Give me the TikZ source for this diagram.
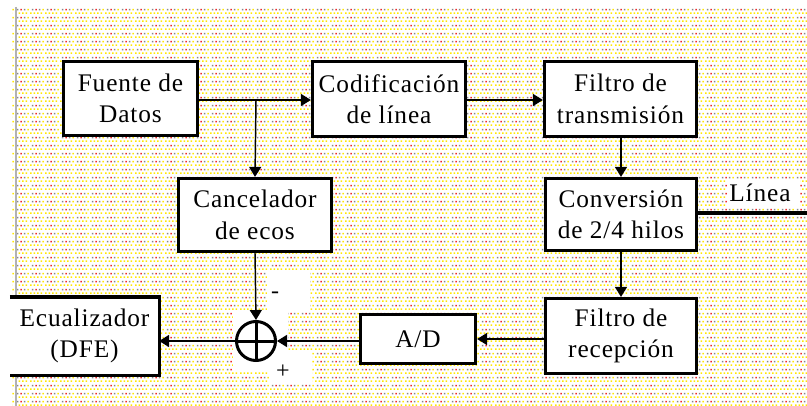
\documentclass[tikz,border=0pt]{standalone}
\usepackage{fontspec}
\setmainfont{Liberation Serif}[LetterSpace=3.5]
\usetikzlibrary{arrows.meta,patterns}
\definecolor{dotY}{RGB}{255,232,0}
\definecolor{dotG}{RGB}{135,135,135}
\definecolor{dotR}{RGB}{240,40,40}
\pgfdeclarepatterninherentlycolored{bgdots}{\pgfpointorigin}{\pgfpoint{11.25pt}{5.625pt}}{\pgfpoint{11.25pt}{5.625pt}}{%
  \pgfsetfillcolor{dotY}%
  \pgfpathrectangle{\pgfpoint{0pt}{0pt}}{\pgfpoint{1.3pt}{1.3pt}}%
  \pgfpathrectangle{\pgfpoint{2.81pt}{0pt}}{\pgfpoint{1.3pt}{1.3pt}}%
  \pgfpathrectangle{\pgfpoint{5.63pt}{0pt}}{\pgfpoint{1.3pt}{1.3pt}}%
  \pgfpathrectangle{\pgfpoint{8.44pt}{0pt}}{\pgfpoint{1.3pt}{1.3pt}}%
  \pgfpathrectangle{\pgfpoint{9.84pt}{2.81pt}}{\pgfpoint{1.3pt}{1.3pt}}%
  \pgfusepath{fill}%
  \pgfsetfillcolor{dotG}%
  \pgfpathrectangle{\pgfpoint{1.4pt}{2.81pt}}{\pgfpoint{1.3pt}{1.3pt}}%
  \pgfpathrectangle{\pgfpoint{7.03pt}{2.81pt}}{\pgfpoint{1.3pt}{1.3pt}}%
  \pgfusepath{fill}%
  \pgfsetfillcolor{dotR}%
  \pgfpathrectangle{\pgfpoint{4.22pt}{2.81pt}}{\pgfpoint{1.3pt}{1.3pt}}%
  \pgfusepath{fill}%
}
\begin{document}
\begin{tikzpicture}[x=0.75pt,y=-0.75pt,
  txt/.style={font=\fontsize{19}{23.5}\selectfont, align=center, inner sep=0pt},
  box/.style={txt, draw=black, fill=white, line width=2.4pt},
  arr/.style={line width=1.1pt, -{Triangle[length=7.5pt,width=9pt]}},
  wire/.style={line width=1.1pt}]
\useasboundingbox (0,0) rectangle (807,406);
\fill[white] (0,0) rectangle (807,406);
\fill[pattern=bgdots] (12,7) rectangle (807,406);
\draw[black!30, line width=1.5pt] (15.5,7) -- (15.5,406);
% white label patches
\fill[white] (267,270) rectangle (310,312);
\fill[white] (233,312) rectangle (288,372);
\fill[white] (270,350) rectangle (312,383);
\fill[white] (727,180) rectangle (800,208);
% blocks
\node[box, minimum width=100.5pt, minimum height=55.5pt] (src) at (130.5,98.5) {Fuente de\\Datos};
\node[box, minimum width=114.75pt, minimum height=56.25pt] (cod) at (389,99) {Codificación\\de línea};
\node[box, minimum width=114pt, minimum height=56.25pt] (tx) at (620.5,99) {Filtro de\\transmisión};
\node[box, minimum width=114.75pt, minimum height=54.75pt] (can) at (255,215) {Cancelador\\de ecos};
\node[box, minimum width=113.25pt, minimum height=54pt] (conv) at (621,214.5) {Conversión\\de 2/4 hilos};
\node[box, minimum width=113.25pt, minimum height=56.25pt] (rx) at (621,336) {Filtro de\\recepción};
\node[box, minimum width=86.25pt, minimum height=36.75pt] (ad) at (418,339) {A/D};
\node[txt, fill=white, minimum width=109.5pt, minimum height=56.25pt, line width=2.4pt] (ecu) at (84.5,336) {Ecualizador\\(DFE)};
\draw[line width=2.4pt] (ecu.north west) -- (ecu.north east) -- (ecu.south east) -- (ecu.south west);
\node[circle, draw=black, line width=2.25pt, minimum size=29.25pt, inner sep=0pt] (sum) at (256,341) {};
\draw[line width=2.25pt] (sum.north) -- (sum.south) (sum.west) -- (sum.east);
\node[txt, font=\fontsize{18}{20}\selectfont] (minus) at (275,295) {-};
\node[txt, font=\fontsize{18}{20}\selectfont] (plus) at (283,372) {+};
\node[txt, anchor=base] (linea) at (760,202) {Línea};
\coordinate (lineEnd) at (807,213);
\coordinate (br) at (256,100);
% connectors
\draw[arr] (src.east |- br) -- (cod.west |- br);
\draw[arr] (br) -- (can.north);
\draw[arr] (cod.east |- br) -- (tx.west |- br);
\draw[arr] (tx.south -| conv.north) -- (conv.north);
\draw[arr] (conv.south) -- (rx.north);
\draw[line width=3pt] (conv.east |- lineEnd) -- (lineEnd);
\draw[arr] (rx.west |- ad.east) -- (ad.east);
\draw[arr] (ad.west |- sum.east) -- (sum.east);
\draw[arr] (can.south) -- (sum.north);
\draw[arr] (sum.west) -- (ecu.east |- sum.west);
\end{tikzpicture}
\end{document}
